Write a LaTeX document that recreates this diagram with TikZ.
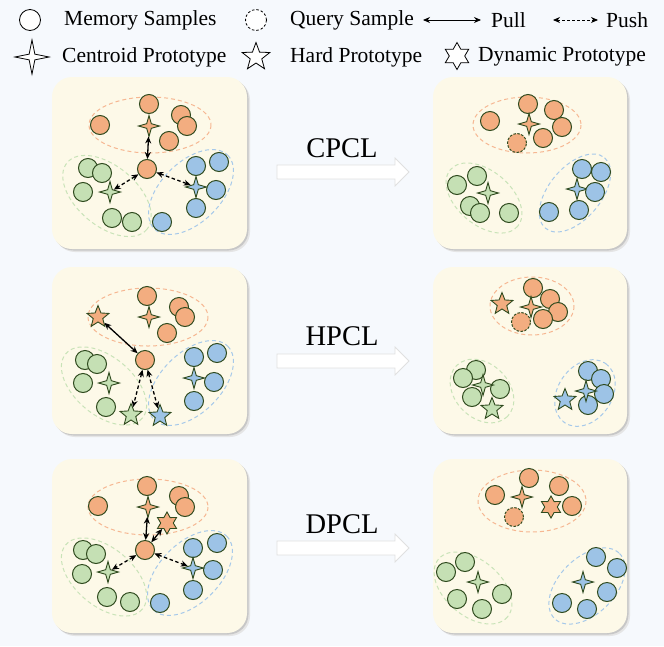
\documentclass[tikz,border=0pt]{standalone}
\usepackage{fontspec}
\setmainfont{Liberation Serif}
\usetikzlibrary{shapes.geometric,arrows.meta}
\definecolor{bgc}{HTML}{F6F9FD}
\definecolor{pan}{HTML}{FDF9E8}
\definecolor{orf}{HTML}{F3AD80}
\definecolor{grf}{HTML}{C5E0B4}
\definecolor{blf}{HTML}{9DC3E6}
\definecolor{ore}{HTML}{F6B792}
\definecolor{gre}{HTML}{C9E3B8}
\definecolor{ble}{HTML}{A6C9EA}
\definecolor{dk}{HTML}{2F4A1E}
\tikzset{
  mem/.style={circle, draw=dk, line width=1pt, minimum size=19pt, inner sep=0pt},
  qry/.style={mem, dash pattern=on 2.5pt off 1.5pt},
  cen/.style={star, star points=4, star point ratio=3.2, draw=dk, line width=0.9pt, minimum size=21pt, inner sep=0pt},
  hrd/.style={star, star points=5, star point ratio=2.3, draw=dk, line width=0.9pt, minimum size=23pt, inner sep=0pt},
  dyn/.style={star, star points=6, star point ratio=1.75, draw=dk, line width=0.9pt, minimum size=22pt, inner sep=0pt},
  clus/.style={dash pattern=on 4pt off 3pt, line width=1pt},
  pull/.style={{Stealth[length=7pt,width=6pt]}-{Stealth[length=7pt,width=6pt]}, line width=1.3pt, black},
  push/.style={pull, dash pattern=on 3.5pt off 2.5pt},
  txt/.style={anchor=west, inner sep=0pt, font=\fontsize{21.5}{24}\selectfont},
  ttl/.style={inner sep=0pt, font=\fontsize{28.5}{32}\selectfont},
  lsym/.style={draw=black, line width=0.8pt, fill=white, inner sep=0pt},
}
\newcommand\mypanel[4]{%
  \fill[black!10, rounded corners=20pt] (#1+3,#2+3) rectangle (#3+3,#4+3);
  \fill[black!22, rounded corners=20pt] (#1+1.5,#2+1.5) rectangle (#3+1.5,#4+1.5);
  \fill[pan, rounded corners=20pt] (#1,#2) rectangle (#3,#4);}
\newcommand\mybigarrow[1]{%
  \draw[draw=black!12, fill=white, line width=0.8pt] (277,#1-7) -- (395,#1-7) -- (395,#1-14) -- (409,#1) -- (395,#1+14) -- (395,#1+7) -- (277,#1+7) -- cycle;}
\newcommand\myell[6]{\draw[clus, draw=#1, rotate around={#6:(#2,#3)}] (#2,#3) ellipse [x radius=#4, y radius=#5];}
\begin{document}
\begin{tikzpicture}[x=1pt,y=-1pt]
\fill[bgc] (0,0) rectangle (664,646);
\useasboundingbox (0,0) rectangle (664,646);

% ---------- legend ----------
\node[lsym, circle, minimum size=21pt] (lm) at (30,20) {};
\node[txt] (tm) at (64,20) {Memory Samples};
\node[lsym, circle, minimum size=21pt, dash pattern=on 2.5pt off 2pt] (lq) at (256,20) {};
\node[txt] (tq) at (290,20) {Query Sample};
\coordinate (pla) at (423,20); \coordinate (plb) at (481,20);
\draw[{Stealth[length=7pt,width=6pt]}-{Stealth[length=7pt,width=6pt]}, line width=0.9pt] (pla) -- (plb);
\node[txt] (tpl) at (491,20) {Pull};
\coordinate (psa) at (553,20); \coordinate (psb) at (598,20);
\draw[{Stealth[length=7pt,width=6pt]}-{Stealth[length=7pt,width=6pt]}, line width=0.9pt, dash pattern=on 3pt off 2pt] (psa) -- (psb);
\node[txt] (tps) at (606,20) {Push};
\node[lsym, star, star points=4, star point ratio=4.2, minimum size=34pt] (lc) at (32,57) {};
\node[txt] (tc) at (62,57) {Centroid Prototype};
\node[lsym, star, star points=5, star point ratio=2.4, minimum size=29pt] (lh) at (256,57) {};
\node[txt] (th) at (290,57) {Hard Prototype};
\node[lsym, star, star points=6, star point ratio=1.75, minimum size=27pt] (ld) at (457,56) {};
\node[txt] (td) at (478,57) {Dynamic Prototype};

% ---------- panels ----------
\mypanel{52}{77}{247}{249}
\mypanel{433}{77}{627}{249}
\mypanel{52}{267}{247}{434}
\mypanel{433}{267}{627}{434}
\mypanel{52}{459}{247}{633}
\mypanel{433}{459}{627}{633}

% ---------- big arrows and titles ----------
\mybigarrow{172}
\mybigarrow{361}
\mybigarrow{548}
\node[ttl] (t1) at (342,148) {CPCL};
\node[ttl] (t2) at (342,336) {HPCL};
\node[ttl] (t3) at (342,524) {DPCL};

% ================= Panel 1 left =================
\myell{ore}{150}{125}{61}{28}{0}
\myell{gre}{107}{196}{52}{30}{-40}
\myell{ble}{191}{192}{52}{30}{45}
\node[mem, fill=orf] (a1) at (149,104) {};
\node[mem, fill=orf] (a2) at (100,125) {};
\node[mem, fill=orf] (a3) at (181,115) {};
\node[mem, fill=orf] (a4) at (187,126) {};
\node[mem, fill=orf] (a5) at (169,141) {};
\node[cen, fill=orf] (aos) at (149,126) {};
\node[mem, fill=orf] (aq) at (147,169) {};
\node[mem, fill=grf] (ag1) at (88,168) {};
\node[mem, fill=grf] (ag2) at (102,173) {};
\node[mem, fill=grf] (ag3) at (83,192) {};
\node[mem, fill=grf] (ag4) at (112,218) {};
\node[mem, fill=grf] (ag5) at (132,222) {};
\node[cen, fill=grf] (ags) at (110,192) {};
\node[mem, fill=blf] (ab1) at (196,166) {};
\node[mem, fill=blf] (ab2) at (219,162) {};
\node[mem, fill=blf] (ab3) at (216,190) {};
\node[mem, fill=blf] (ab4) at (196,208) {};
\node[mem, fill=blf] (ab5) at (162,222) {};
\node[cen, fill=blf] (abs) at (196,187) {};
\draw[pull] (aos) -- (aq);
\draw[push] (aq) -- (ags);
\draw[push] (aq) -- (abs);

% ================= Panel 1 right =================
\myell{ore}{527}{125}{54}{28}{0}
\myell{gre}{484}{198}{44}{27}{-40}
\myell{ble}{575}{193}{46}{26}{50}
\node[mem, fill=orf] (b1) at (528,104) {};
\node[mem, fill=orf] (b2) at (554,110) {};
\node[mem, fill=orf] (b3) at (490,121) {};
\node[mem, fill=orf] (b4) at (562,127) {};
\node[mem, fill=orf] (b5) at (543,138) {};
\node[qry, fill=orf] (bq) at (517,143) {};
\node[cen, fill=orf] (bos) at (529,124) {};
\node[mem, fill=grf] (bg1) at (477,176) {};
\node[mem, fill=grf] (bg2) at (457,185) {};
\node[mem, fill=grf] (bg3) at (470,206) {};
\node[mem, fill=grf] (bg4) at (480,213) {};
\node[mem, fill=grf] (bg5) at (509,213) {};
\node[cen, fill=grf] (bgs) at (488,193) {};
\node[mem, fill=blf] (bb1) at (582,169) {};
\node[mem, fill=blf] (bb2) at (601,172) {};
\node[mem, fill=blf] (bb3) at (549,212) {};
\node[mem, fill=blf] (bb4) at (579,210) {};
\node[cen, fill=blf] (bbs) at (577,189) {};
\node[mem, fill=blf] (bb5) at (595,192) {};

% ================= Panel 2 left =================
\myell{ore}{148}{317}{60}{29}{0}
\myell{gre}{104}{386}{50}{29}{-40}
\myell{ble}{191}{383}{52}{30}{45}
\node[mem, fill=orf] (c1) at (147,296) {};
\node[mem, fill=orf] (c2) at (179,307) {};
\node[mem, fill=orf] (c3) at (185,317) {};
\node[mem, fill=orf] (c4) at (167,333) {};
\node[hrd, fill=orf] (coh) at (98,317) {};
\node[cen, fill=orf] (cos) at (149,317) {};
\node[mem, fill=orf] (cq) at (145,360) {};
\node[mem, fill=grf] (cg1) at (85,360) {};
\node[mem, fill=grf] (cg2) at (97,364) {};
\node[mem, fill=grf] (cg3) at (83,383) {};
\node[mem, fill=grf] (cg4) at (106,407) {};
\node[cen, fill=grf] (cgs) at (109,383) {};
\node[hrd, fill=grf] (cgh) at (131,415) {};
\node[mem, fill=blf] (cb1) at (194,357) {};
\node[mem, fill=blf] (cb2) at (217,353) {};
\node[mem, fill=blf] (cb3) at (214,382) {};
\node[mem, fill=blf] (cb4) at (194,401) {};
\node[cen, fill=blf] (cbs) at (194,378) {};
\node[hrd, fill=blf] (cbh) at (160,416) {};
\draw[pull] (coh) -- (cq);
\draw[push] (cq) -- (cgh);
\draw[push] (cq) -- (cbh);

% ================= Panel 2 right =================
\myell{ore}{532}{306}{42}{29}{0}
\myell{gre}{482}{391}{36}{27}{-45}
\myell{ble}{585}{393}{36}{27}{55}
\node[mem, fill=orf] (d1) at (533,288) {};
\node[mem, fill=orf] (d2) at (550,299) {};
\node[mem, fill=orf] (d3) at (558,312) {};
\node[mem, fill=orf] (d4) at (543,319) {};
\node[qry, fill=orf] (dq) at (521,322) {};
\node[hrd, fill=orf] (doh) at (502,304) {};
\node[cen, fill=orf] (dos) at (531,307) {};
\node[mem, fill=grf] (dg1) at (476,370) {};
\node[mem, fill=grf] (dg2) at (463,378) {};
\node[mem, fill=grf] (dg3) at (500,389) {};
\node[mem, fill=grf] (dg4) at (472,397) {};
\node[cen, fill=grf] (dgs) at (483,385) {};
\node[hrd, fill=grf] (dgh) at (492,409) {};
\node[mem, fill=blf] (db1) at (588,371) {};
\node[mem, fill=blf] (db2) at (601,379) {};
\node[mem, fill=blf] (db3) at (604,394) {};
\node[mem, fill=blf] (db4) at (588,405) {};
\node[cen, fill=blf] (dbs) at (586,391) {};
\node[hrd, fill=blf] (dbh) at (565,400) {};

% ================= Panel 3 left =================
\myell{ore}{148}{507}{60}{28}{0}
\myell{gre}{104}{577}{50}{29}{-40}
\myell{ble}{190}{573}{52}{30}{45}
\node[mem, fill=orf] (e1) at (147,486) {};
\node[mem, fill=orf] (e2) at (179,496) {};
\node[mem, fill=orf] (e3) at (185,507) {};
\node[mem, fill=orf] (e4) at (98,506) {};
\node[cen, fill=orf] (eos) at (148,507) {};
\node[dyn, fill=orf] (eod) at (167,523) {};
\node[mem, fill=orf] (eq) at (145,550) {};
\node[mem, fill=grf] (eg1) at (83,550) {};
\node[mem, fill=grf] (eg2) at (96,554) {};
\node[mem, fill=grf] (eg3) at (82,574) {};
\node[mem, fill=grf] (eg4) at (107,597) {};
\node[mem, fill=grf] (eg5) at (130,602) {};
\node[cen, fill=grf] (egs) at (108,572) {};
\node[mem, fill=blf] (eb1) at (193,548) {};
\node[mem, fill=blf] (eb2) at (217,543) {};
\node[mem, fill=blf] (eb3) at (213,570) {};
\node[mem, fill=blf] (eb4) at (193,590) {};
\node[mem, fill=blf] (eb5) at (160,603) {};
\node[cen, fill=blf] (ebs) at (193,568) {};
\draw[pull] (eos) -- (eq);
\draw[pull] (eod) -- (eq);
\draw[push] (eq) -- (egs);
\draw[push] (eq) -- (ebs);

% ================= Panel 3 right =================
\myell{ore}{532}{501}{54}{31}{0}
\myell{gre}{473}{588}{45}{28}{-40}
\myell{ble}{587}{586}{46}{28}{45}
\node[mem, fill=orf] (f1) at (529,478) {};
\node[mem, fill=orf] (f2) at (559,486) {};
\node[mem, fill=orf] (f3) at (495,495) {};
\node[mem, fill=orf] (f4) at (572,506) {};
\node[qry, fill=orf] (fq) at (514,517) {};
\node[cen, fill=orf] (fos) at (522,497) {};
\node[dyn, fill=orf] (fod) at (551,507) {};
\node[mem, fill=grf] (fg1) at (465,562) {};
\node[mem, fill=grf] (fg2) at (446,572) {};
\node[mem, fill=grf] (fg3) at (457,599) {};
\node[mem, fill=grf] (fg4) at (482,609) {};
\node[mem, fill=grf] (fg5) at (502,594) {};
\node[cen, fill=grf] (fgs) at (478,582) {};
\node[mem, fill=blf] (fb1) at (596,557) {};
\node[mem, fill=blf] (fb2) at (617,568) {};
\node[mem, fill=blf] (fb3) at (607,592) {};
\node[mem, fill=blf] (fb4) at (562,603) {};
\node[mem, fill=blf] (fb5) at (587,609) {};
\node[cen, fill=blf] (fbs) at (583,582) {};
\end{tikzpicture}
\end{document}
